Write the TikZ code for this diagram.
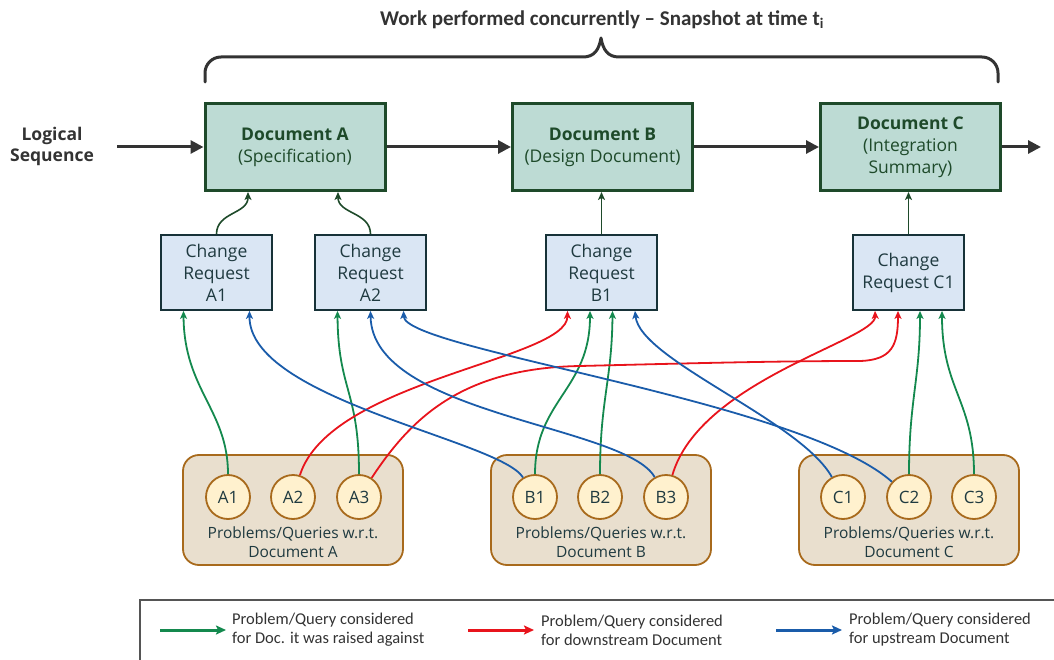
\documentclass[tikz,border=0pt]{standalone}
\usepackage{fontspec}
\setmainfont{Open Sans}
\newfontfamily\narrowfont{Carlito}
\usetikzlibrary{arrows.meta}

\definecolor{docfill}{HTML}{BDDBD4}
\definecolor{docline}{HTML}{1E4A2A}
\definecolor{crfill}{HTML}{DAE6F4}
\definecolor{crline}{HTML}{173238}
\definecolor{crtext}{HTML}{1F3A40}
\definecolor{qfill}{HTML}{FFF1CE}
\definecolor{qline}{HTML}{A86A1C}
\definecolor{grpfill}{HTML}{E9DFCE}
\definecolor{linkgreen}{HTML}{14894E}
\definecolor{linkred}{HTML}{E8141C}
\definecolor{linkblue}{HTML}{1A5CAA}
\definecolor{ink}{HTML}{333333}
\definecolor{frame}{HTML}{555555}

\tikzset{
  docbox/.style={draw=docline, fill=docfill, line width=3pt, minimum width=180pt,
    minimum height=87pt, align=center, text=docline, inner sep=0pt,
    font=\fontsize{17.5}{22}\selectfont},
  crbox/.style={draw=crline, fill=crfill, line width=1.8pt, minimum width=111pt,
    minimum height=75pt, align=center, text=crtext, inner sep=0pt,
    font=\fontsize{17.5}{22}\selectfont},
  query/.style={circle, draw=qline, fill=qfill, line width=1.8pt, minimum size=44pt,
    inner sep=0pt, text=crtext, font=\fontsize{17}{20}\selectfont},
  group/.style={draw=qline, fill=grpfill, line width=1.8pt, rounded corners=16pt,
    minimum width=220pt, minimum height=110pt},
  grouplabel/.style={align=center, text=crtext, font=\fontsize{15.5}{18.5}\selectfont},
  seq/.style={draw=ink, line width=3pt, -{Triangle[length=13pt,width=13pt]}},
  feed/.style={draw=docline, line width=1.6pt, -{Stealth[length=8pt,width=7pt,inset=2pt]}},
  link/.style={line width=1.8pt, -{Stealth[length=8pt,width=7pt,inset=2pt]}},
  glink/.style={link, draw=linkgreen},
  rlink/.style={link, draw=linkred},
  blink/.style={link, draw=linkblue},
  legarrow/.style={line width=3pt, -{Stealth[length=10pt,width=9pt,inset=2pt]}},
  legtext/.style={anchor=west, align=left, text=ink, inner sep=0pt,
    font=\narrowfont\fontsize{16.5}{19}\selectfont},
}

\begin{document}
\begin{tikzpicture}[x=1pt, y=-1pt]
\useasboundingbox (0,0) rectangle (1054,660);

% heading and brace
\node[font=\narrowfont\bfseries\fontsize{21}{24}\selectfont, text=ink] (title) at (602,20)
  {Work performed concurrently – Snapshot at time t\textsubscript{i}};
\draw[ink, line width=3pt, line cap=round, line join=round]
  (205,82) -- (205,73) arc[start angle=180, end angle=270, radius=16] -- (583,57)
  .. controls (594,57) and (599,50) .. (601,38)
  .. controls (603,50) and (608,57) .. (619,57) -- (982,57)
  arc[start angle=270, end angle=360, radius=16] -- (998,82);

% documents in logical sequence
\node[font=\bfseries\fontsize{17.5}{21}\selectfont, text=ink, align=center] (ls) at (52,146.5)
  {Logical\\Sequence};
\node[docbox] (docA) at (295,147) {\textbf{Document A}\\(Specification)};
\node[docbox] (docB) at (602.5,147) {\textbf{Document B}\\(Design Document)};
\node[docbox] (docC) at (910.5,147) {\textbf{Document C}\\(Integration\\Summary)};
\coordinate (seqin) at (117,147);
\coordinate (seqout) at (1041,147);
\draw[seq] (seqin) -- (docA.west);
\draw[seq] (docA.east) -- (docB.west);
\draw[seq] (docB.east) -- (docC.west);
\draw[seq] (docC.east) -- (seqout);

% change requests
\node[crbox] (crA1) at (216.5,272.5) {Change\\Request\\A1};
\node[crbox] (crA2) at (370.5,272.5) {Change\\Request\\A2};
\node[crbox] (crB1) at (601.5,272.5) {Change\\Request\\B1};
\node[crbox] (crC1) at (908.5,272.5) {Change\\Request C1};

\coordinate (docAin1) at ([xshift=-47pt]docA.south);
\coordinate (docAin2) at ([xshift=43pt]docA.south);
\draw[feed] (crA1.north) .. controls ++(0,-22) and (248,214) .. (docAin1);
\draw[feed] (crA2.north) .. controls ++(0,-22) and (338,214) .. (docAin2);
\draw[feed] (crB1.north) -- (crB1.north |- docB.south);
\draw[feed] (crC1.north) -- (crC1.north |- docC.south);

% problem / query groups
\node[group] (grpA) at (293,510) {};
\node[group] (grpB) at (601,510) {};
\node[group] (grpC) at (909,510) {};
\node[grouplabel] (grpAtxt) at (293,542) {Problems/Queries w.r.t.\\Document A};
\node[grouplabel] (grpBtxt) at (601,542) {Problems/Queries w.r.t.\\Document B};
\node[grouplabel] (grpCtxt) at (909,542) {Problems/Queries w.r.t.\\Document C};

\node[query] (qA1) at (228,497) {A1};
\node[query] (qA2) at (293,497) {A2};
\node[query] (qA3) at (359,497) {A3};
\node[query] (qB1) at (535,497) {B1};
\node[query] (qB2) at (600,497) {B2};
\node[query] (qB3) at (666,497) {B3};
\node[query] (qC1) at (843,497) {C1};
\node[query] (qC2) at (909,497) {C2};
\node[query] (qC3) at (974,497) {C3};

% entry points on the change requests
\coordinate (a1p) at ([xshift=-33pt]crA1.south);
\coordinate (a1q) at ([xshift=33pt]crA1.south);
\coordinate (a2p) at ([xshift=-33pt]crA2.south);
\coordinate (a2q) at ([xshift=0pt]crA2.south);
\coordinate (a2r) at ([xshift=33pt]crA2.south);
\coordinate (b1p) at ([xshift=-34pt]crB1.south);
\coordinate (b1q) at ([xshift=-11.5pt]crB1.south);
\coordinate (b1r) at ([xshift=11pt]crB1.south);
\coordinate (b1s) at ([xshift=33.5pt]crB1.south);
\coordinate (c1p) at ([xshift=-33.5pt]crC1.south);
\coordinate (c1q) at ([xshift=-10.5pt]crC1.south);
\coordinate (c1r) at ([xshift=11.5pt]crC1.south);
\coordinate (c1s) at ([xshift=33.5pt]crC1.south);

% queries handled for their own document
\draw[glink] (qA1) .. controls (228,410) and (184,390) .. (a1p);
\draw[glink] (qA3) .. controls (359,390) and (338,390) .. (a2p);
\draw[glink] (qB1) .. controls (535,400) and (590,390) .. (b1q);
\draw[glink] (qB2) .. controls (600,400) and (612,380) .. (b1r);
\draw[glink] (qC2) .. controls (909,400) and (920,380) .. (c1r);
\draw[glink] (qC3) .. controls (974,400) and (942,390) .. (c1s);

% queries handed on downstream
\draw[rlink] (qA2) .. controls (330,380) and (567,360) .. (b1p);
\draw[rlink] (qB3) .. controls (700,380) and (876,340) .. (c1p);
\draw[rlink] (qA3) .. controls (410,420) and (460,368) .. (580,366)
  .. controls (700,363) and (780,361) .. (860,361)
  .. controls (892,360) and (898,345) .. (c1q);

% queries handed back upstream
\draw[blink] (qB1) .. controls (500,440) and (249,400) .. (a1q);
\draw[blink] (qB3) .. controls (625,425) and (372,415) .. (a2q);
\draw[blink] (qC2) .. controls (800,400) and (405,350) .. (a2r);
\draw[blink] (qC1) .. controls (800,420) and (640,360) .. (b1s);

% legend
\draw[frame, line width=1.2pt] (140,661) |- (1055,600);
\coordinate (lg1s) at (160,630);
\coordinate (lg1e) at (226,630);
\coordinate (lg2s) at (468,630);
\coordinate (lg2e) at (534,630);
\coordinate (lg3s) at (776,630);
\coordinate (lg3e) at (842,630);
\draw[legarrow, linkgreen] (lg1s) -- (lg1e);
\draw[legarrow, linkred] (lg2s) -- (lg2e);
\draw[legarrow, linkblue] (lg3s) -- (lg3e);
\node[legtext] (lgt1) at (232,630) {Problem/Query considered\\for Doc. it was raised against};
\node[legtext] (lgt2) at (541,630) {Problem/Query considered\\for downstream Document};
\node[legtext] (lgt3) at (849,630) {Problem/Query considered\\for upstream Document};
\end{tikzpicture}
\end{document}
